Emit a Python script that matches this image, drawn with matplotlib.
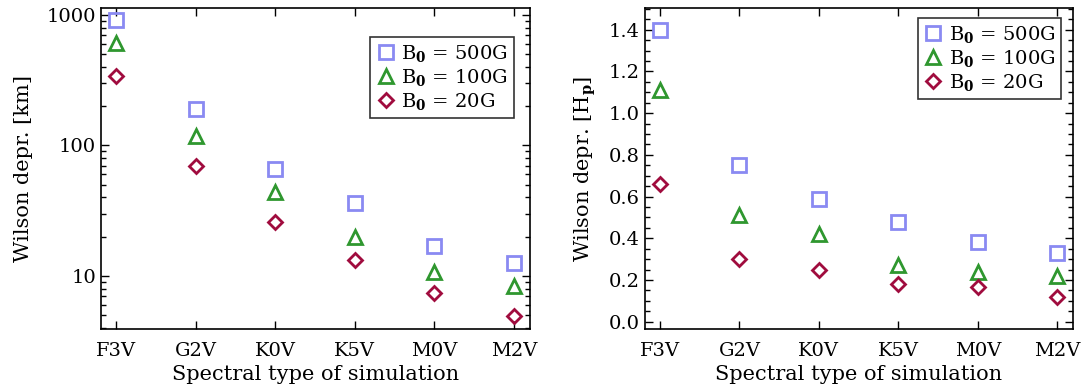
import matplotlib
matplotlib.use("Agg")
import matplotlib.pyplot as plt
from matplotlib.ticker import MultipleLocator, FixedLocator, LogLocator, NullFormatter, FormatStrFormatter

plt.rcParams['font.family'] = 'DejaVu Serif'
plt.rcParams['mathtext.fontset'] = 'dejavuserif'

spectral = ["F3V", "G2V", "K0V", "K5V", "M0V", "M2V"]
labels = [r"B$_\mathbf{0}$ = 500G", r"B$_\mathbf{0}$ = 100G", r"B$_\mathbf{0}$ = 20G"]

# Wilson depression in km
km_500 = [916, 192, 66, 36, 17, 12.6]
km_100 = [614, 119, 44, 19.9, 10.7, 8.4]
km_20 = [340, 70, 26, 13.3, 7.4, 4.9]

# Wilson depression in pressure scale heights
hp_500 = [1.40, 0.75, 0.59, 0.48, 0.38, 0.33]
hp_100 = [1.11, 0.51, 0.42, 0.27, 0.24, 0.22]
hp_20 = [0.66, 0.30, 0.25, 0.18, 0.165, 0.12]

colors = ["#8a8af2", "#2f972f", "#a00c3e"]
markers = ["s", "^", "D"]
msizes = [10, 10, 7.5]

fig = plt.figure(figsize=(10.82, 3.92), dpi=100)
ax1 = fig.add_axes([0.0933, 0.1607, 0.3965, 0.819])
ax2 = fig.add_axes([0.5961, 0.1607, 0.3956, 0.819])

x = list(range(len(spectral)))

def style(ax):
    ax.set_xlim(-0.19, 5.2)
    ax.xaxis.set_major_locator(FixedLocator(x))
    ax.set_xticklabels(spectral)
    ax.tick_params(which="both", direction="in", top=True, right=True, labelsize=14)
    ax.tick_params(which="major", length=6, width=1)
    ax.tick_params(which="minor", length=3.5, width=1)
    ax.tick_params(axis="x", pad=9)
    for s in ax.spines.values():
        s.set_linewidth(1.2)
    ax.set_xlabel("Spectral type of simulation", fontsize=15, labelpad=4)

for ax, series in [(ax1, [km_500, km_100, km_20]), (ax2, [hp_500, hp_100, hp_20])]:
    for vals, c, m, ms, lab in zip(series, colors, markers, msizes, labels):
        ax.plot(x, vals, linestyle="none", marker=m, markersize=ms, markerfacecolor="none",
                markeredgecolor=c, markeredgewidth=2, label=lab)
    style(ax)

ax1.set_yscale("log")
ax1.set_ylim(3.93, 1131)
ax1.yaxis.set_minor_locator(LogLocator(base=10, subs=range(2, 10), numticks=10))
ax1.yaxis.set_minor_formatter(NullFormatter())
ax1.set_yticks([10, 100, 1000])
ax1.set_yticklabels(["10", "100", "1000"])
ax1.set_ylabel("Wilson depr. [km]", fontsize=15, labelpad=10)

ax2.set_ylim(-0.035, 1.504)
ax2.yaxis.set_major_locator(MultipleLocator(0.2))
ax2.yaxis.set_minor_locator(MultipleLocator(0.05))
ax2.yaxis.set_major_formatter(FormatStrFormatter("%.1f"))
ax2.set_ylabel(r"Wilson depr. [H$_\mathbf{p}$]", fontsize=15, labelpad=8)

for ax, anchor in [(ax1, (0.962, 0.909)), (ax2, (0.972, 0.968))]:
    leg = ax.legend(loc="upper right", bbox_to_anchor=anchor,
                    fontsize=14, frameon=True, fancybox=False, edgecolor="black",
                    handletextpad=0.3, handlelength=1.0, borderpad=0.3, labelspacing=0.15,
                    borderaxespad=0)
    leg.get_frame().set_linewidth(1.2)

fig.savefig("out.png", dpi=100)
